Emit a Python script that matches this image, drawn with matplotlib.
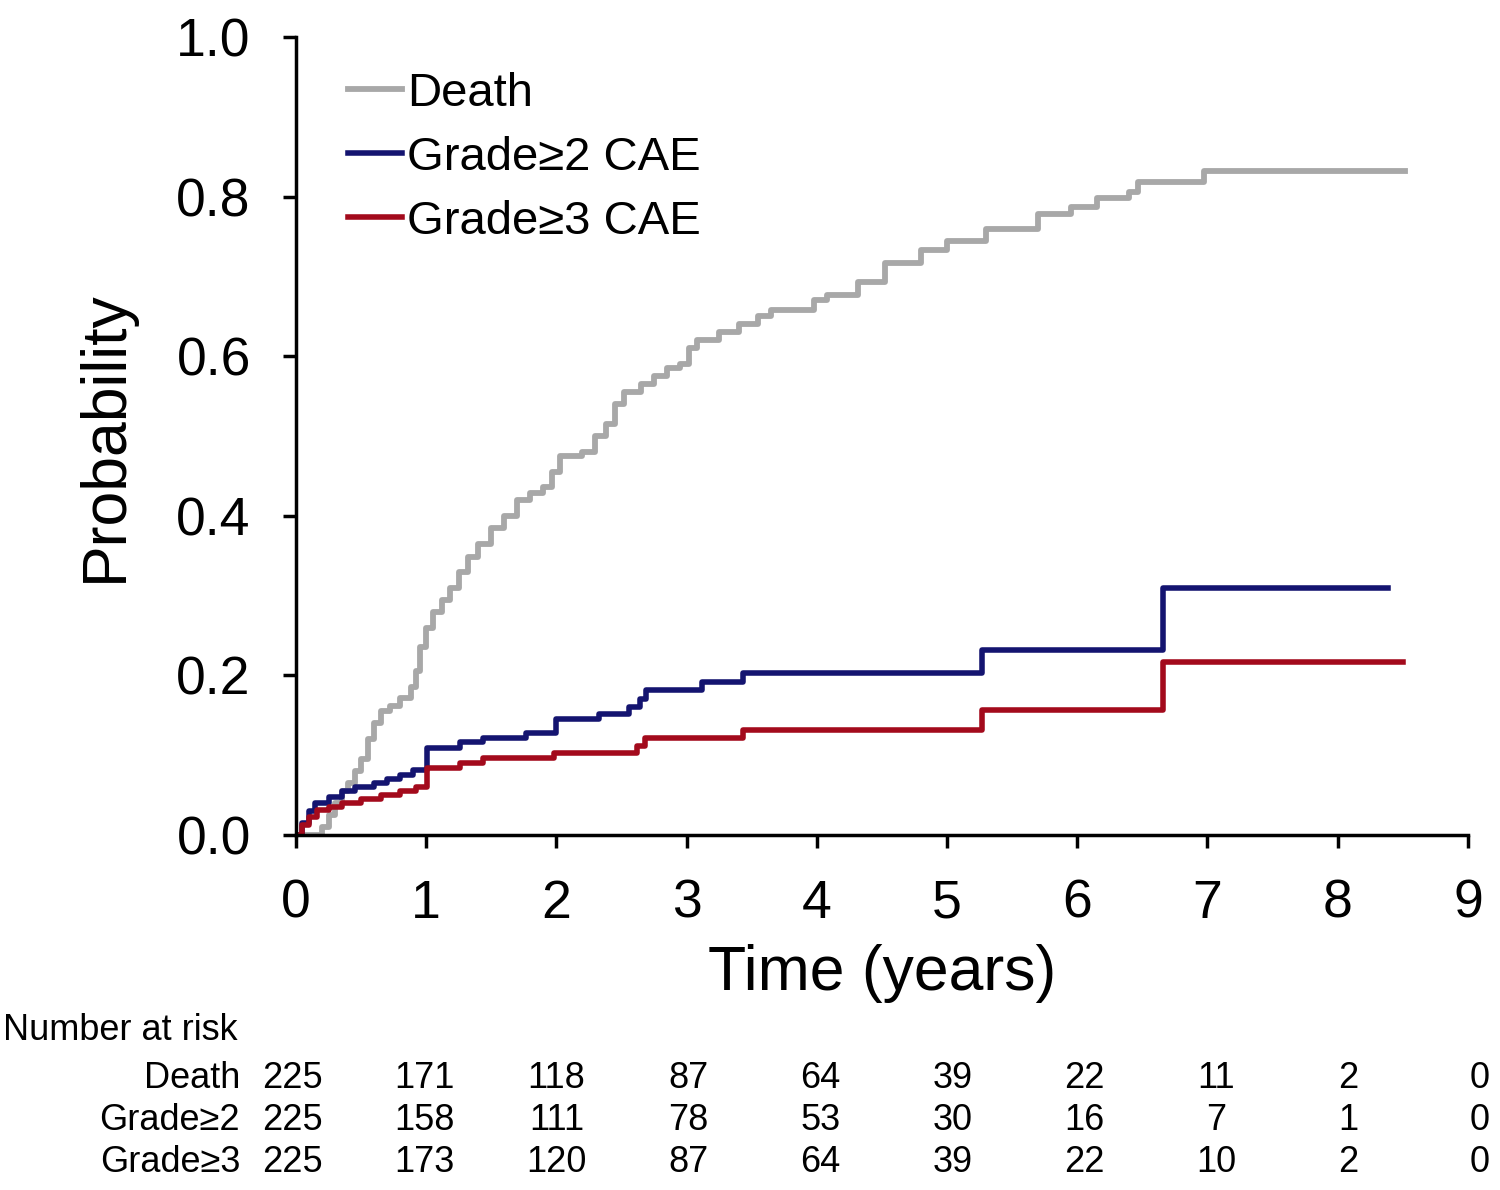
import matplotlib
matplotlib.use("Agg")
import matplotlib.pyplot as plt

plt.rcParams.update({
    "font.family": ["Liberation Sans", "DejaVu Sans"],
    "text.color": "black", "figure.facecolor": "white",
})

GRAY, NAVY, RED = "#A8A8A8", "#141470", "#A30A1C"

# cumulative incidence curves
death_t = [0, 0.15, 0.2, 0.25, 0.3, 0.35, 0.4, 0.45, 0.5, 0.55, 0.6, 0.65, 0.72, 0.8, 0.88,
           0.92, 0.95, 1.0, 1.05, 1.12, 1.18, 1.25, 1.32, 1.4, 1.5, 1.6, 1.7, 1.8, 1.9, 1.97,
           2.03, 2.2, 2.3, 2.38, 2.45, 2.52, 2.65, 2.75, 2.85, 2.95, 3.02, 3.08, 3.25, 3.4,
           3.55, 3.65, 3.98, 4.08, 4.32, 4.52, 4.8, 5.0, 5.3, 5.7, 5.95, 6.15, 6.4, 6.47,
           6.97, 8.52]
death_p = [0, 0.0, 0.01, 0.025, 0.04, 0.055, 0.065, 0.08, 0.095, 0.12, 0.14, 0.155, 0.162,
           0.172, 0.185, 0.205, 0.235, 0.26, 0.28, 0.295, 0.31, 0.33, 0.348, 0.365, 0.385,
           0.40, 0.42, 0.428, 0.436, 0.455, 0.475, 0.48, 0.50, 0.515, 0.54, 0.555, 0.565,
           0.575, 0.585, 0.59, 0.61, 0.62, 0.63, 0.64, 0.65, 0.658, 0.67, 0.677, 0.693,
           0.717, 0.733, 0.745, 0.76, 0.778, 0.787, 0.798, 0.806, 0.818, 0.832, 0.832]

g2_t = [0, 0.05, 0.1, 0.15, 0.25, 0.35, 0.45, 0.6, 0.7, 0.8, 0.9, 1.01, 1.26, 1.44, 1.77,
        2.0, 2.33, 2.56, 2.64, 2.69, 3.12, 3.43, 5.27, 6.66, 8.39]
g2_p = [0, 0.015, 0.03, 0.04, 0.048, 0.055, 0.06, 0.065, 0.07, 0.075, 0.082, 0.109, 0.116,
        0.121, 0.128, 0.145, 0.152, 0.161, 0.17, 0.182, 0.192, 0.203, 0.232, 0.309, 0.309]

g3_t = [0, 0.05, 0.1, 0.16, 0.25, 0.35, 0.5, 0.65, 0.8, 0.92, 1.01, 1.26, 1.44, 1.98,
        2.62, 2.68, 3.43, 5.27, 6.66, 8.50]
g3_p = [0, 0.012, 0.022, 0.031, 0.035, 0.04, 0.045, 0.05, 0.055, 0.06, 0.084, 0.09, 0.096,
        0.103, 0.112, 0.121, 0.131, 0.157, 0.217, 0.217]

# number at risk table
risk_times = [0, 1, 2, 3, 4, 5, 6, 7, 8, 9]
risk_labels = ["Death", "Grade≥2", "Grade≥3"]
risk_death = [225, 171, 118, 87, 64, 39, 22, 11, 2, 0]
risk_g2 = [225, 158, 111, 78, 53, 30, 16, 7, 1, 0]
risk_g3 = [225, 173, 120, 87, 64, 39, 22, 10, 2, 0]

fig = plt.figure(figsize=(15, 11.9), dpi=100)
ax = fig.add_axes([0.1973, 0.2983, 0.7813, 0.6706])

ax.step(death_t, death_p, where="post", color=GRAY, lw=4.2, label="Death")
ax.step(g2_t, g2_p, where="post", color=NAVY, lw=4.0, label="Grade≥2 CAE")
ax.step(g3_t, g3_p, where="post", color=RED, lw=4.0, label="Grade≥3 CAE")

ax.set_xlim(0, 9)
ax.set_ylim(0, 1)
ax.set_xticks(range(10))
ax.set_yticks([0, 0.2, 0.4, 0.6, 0.8, 1.0])
ax.set_yticklabels(["0.0", "0.2", "0.4", "0.6", "0.8", "1.0"])
for s in ("top", "right"):
    ax.spines[s].set_visible(False)
for s in ("left", "bottom"):
    ax.spines[s].set_linewidth(2.5)
ax.tick_params(axis="both", labelsize=38.5, length=9.5, width=2.5)
ax.tick_params(axis="x", pad=22)
ax.tick_params(axis="y", pad=23)
ax.set_xlabel("Time (years)", fontsize=45, labelpad=11)
ax.set_ylabel("Probability", fontsize=45, labelpad=30)

ax.legend(loc="upper left", bbox_to_anchor=(0.028, 0.98), frameon=False, fontsize=34,
          handlelength=1.15, handletextpad=0.1, labelspacing=0.42, borderaxespad=0)

# risk table under the axes
fig.text(0.002, 1 - 1030 / 1190, "Number at risk", fontsize=26, va="center", ha="left")
rows = [risk_death, risk_g2, risk_g3]
row_y = [1078, 1120, 1162]
trans = matplotlib.transforms.blended_transform_factory(ax.transData, fig.transFigure)
for lab, vals, py in zip(risk_labels, rows, row_y):
    yf = 1 - py / 1190
    fig.text(240 / 1500, yf, lab, fontsize=26, va="center", ha="right")
    for t, v in zip(risk_times, vals):
        ax.text(t * 1.013 - 0.025, yf, str(v), fontsize=26, va="center", ha="center",
                transform=trans, clip_on=False)

fig.savefig("out.png", dpi=100, facecolor="white")
